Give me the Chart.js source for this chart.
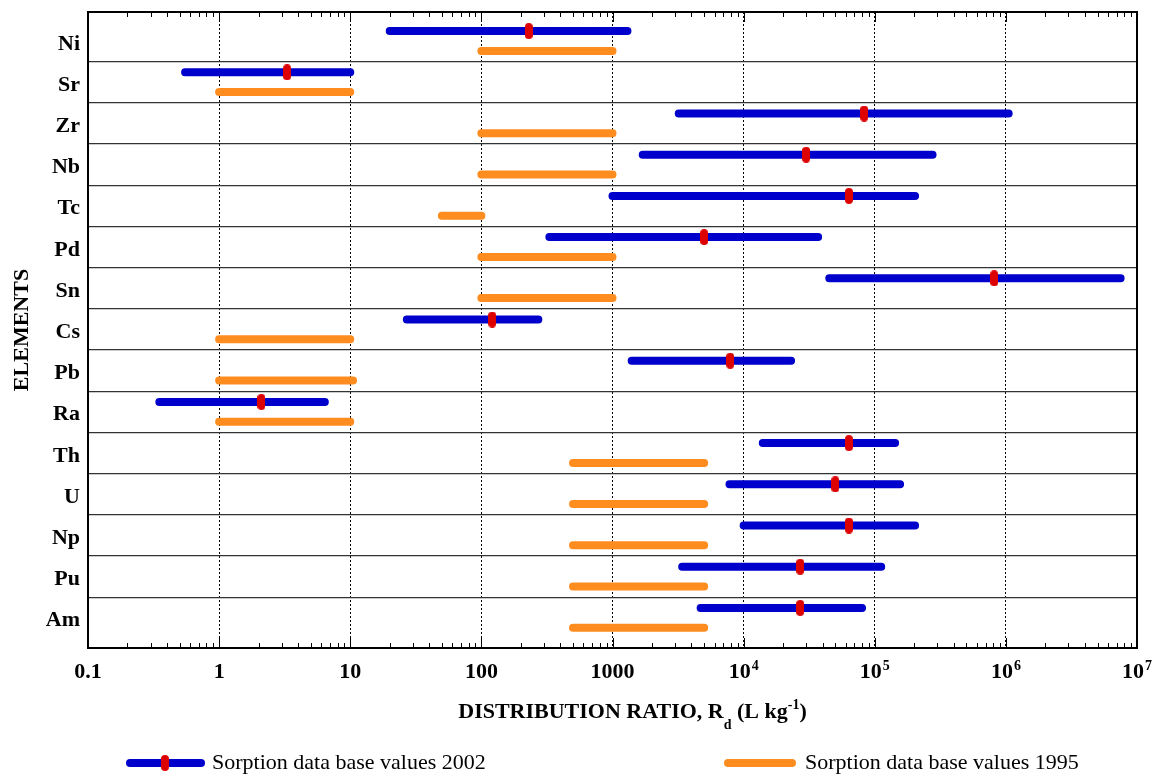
<!DOCTYPE html>
<html>
<head>
<meta charset="utf-8">
<script src="https://cdn.jsdelivr.net/npm/chart.js@4/dist/chart.umd.min.js"></script>
<style>
  html, body { margin: 0; padding: 0; background: #fff; }
</style>
</head>
<body>
<canvas id="sorptionChart" width="1160" height="774"></canvas>
<script>
// elements, top to bottom
const elements = ["Ni", "Sr", "Zr", "Nb", "Tc", "Pd", "Sn", "Cs", "Pb", "Ra", "Th", "U", "Np", "Pu", "Am"];

// sorption data base 2002: low / high / best estimate (L/kg)
const low2002  = [20, 0.55, 3200, 1700, 1000, 330, 45000, 27, 1400, 0.35, 14000, 7800, 10000, 3400, 4700];
const high2002 = [1300, 10, 1050000, 276000, 203000, 37000, 7500000, 272, 23000, 6.4, 143000, 156000, 203000, 112000, 80000];
const best2002 = [230, 3.3, 83000, 30000, 63500, 5000, 815000, 121, 7900, 2.1, 63500, 50000, 63500, 27000, 27000];

// sorption data base 1995: low / high
const low1995  = [100, 1, 100, 100, 50, 100, 100, 1, 1, 1, 500, 500, 500, 500, 500];
const high1995 = [1000, 10, 1000, 1000, 100, 1000, 1000, 10, 10.5, 10, 5000, 5000, 5000, 5000, 5000];

// x axis tick labels (base + superscript)
const xTickValues = [0.1, 1, 10, 100, 1000, 1e4, 1e5, 1e6, 1e7];
const xTickText   = ["0.1", "1", "10", "100", "1000", "10", "10", "10", "10"];
const xTickSup    = ["", "", "", "", "", "4", "5", "6", "7"];

const BLUE = "#0000CC";
const ORANGE = "#FF8C1E";
const RED = "#DD0000";
const OFF = 0.24;   // vertical offset of the two bars inside a row
const SERIF = '"Liberation Serif", "Times New Roman", serif';
const Y_MIN = -0.704, Y_MAX = 14.733;

// red pill used for best estimate
const pill = document.createElement("canvas");
pill.width = 8; pill.height = 16;
const pc = pill.getContext("2d");
pc.fillStyle = RED;
pc.beginPath();
pc.roundRect(0, 0, 8, 16, 4);
pc.fill();

// two points per element, with a gap in between
function rangePoints(lo, hi, off) {
  const pts = [];
  elements.forEach((el, i) => {
    pts.push({ x: lo[i], y: i + off });
    pts.push({ x: hi[i], y: i + off });
    pts.push({ x: hi[i], y: null });
  });
  return pts;
}

function drawRangeLine(ctx, x1, x2, y, color) {
  ctx.save();
  ctx.strokeStyle = color;
  ctx.lineWidth = 8;
  ctx.lineCap = "round";
  ctx.beginPath();
  ctx.moveTo(x1, y);
  ctx.lineTo(x2, y);
  ctx.stroke();
  ctx.restore();
}

const frameAndLabels = {
  id: "frameAndLabels",
  afterDatasetsDraw(chart) {
    const { ctx, chartArea: a, scales: { x } } = chart;
    ctx.save();
    ctx.strokeStyle = "#000";
    ctx.lineWidth = 1;
    // inward ticks on top and bottom
    ctx.beginPath();
    for (let e = -1; e <= 7; e++) {
      for (let k = 1; k <= 9; k++) {
        if (e === 7 && k > 1) break;
        const v = k * Math.pow(10, e);
        const px = Math.round(x.getPixelForValue(v)) + 0.5;
        const len = k === 1 ? 10 : 5;
        ctx.moveTo(px, a.bottom);
        ctx.lineTo(px, a.bottom - len);
        ctx.moveTo(px, a.top);
        ctx.lineTo(px, a.top + len);
      }
    }
    ctx.stroke();
    // frame
    ctx.lineWidth = 2;
    ctx.strokeRect(a.left, a.top, a.right - a.left, a.bottom - a.top);
    ctx.restore();
  },
  afterDraw(chart) {
    const { ctx, chartArea: a, scales: { x } } = chart;
    ctx.save();
    ctx.fillStyle = "#000";
    ctx.textBaseline = "alphabetic";

    // x tick labels
    const big = "bold 22px " + SERIF;
    const small = "bold 14px " + SERIF;
    const baseY = a.bottom + 30;
    xTickValues.forEach((v, i) => {
      const px = x.getPixelForValue(v);
      ctx.font = big;
      const w1 = ctx.measureText(xTickText[i]).width;
      ctx.font = small;
      const w2 = xTickSup[i] ? ctx.measureText(xTickSup[i]).width + 1 : 0;
      const start = px - (w1 + w2) / 2;
      ctx.font = big;
      ctx.textAlign = "left";
      ctx.fillText(xTickText[i], start, baseY);
      if (xTickSup[i]) {
        ctx.font = small;
        ctx.fillText(xTickSup[i], start + w1 + 1, baseY - 8);
      }
    });

    // x axis title: DISTRIBUTION RATIO, R_d (L kg^-1)
    const parts = [
      { t: "DISTRIBUTION RATIO, R", f: big, dy: 0 },
      { t: "d", f: small, dy: 11 },
      { t: " (L kg", f: big, dy: 0 },
      { t: "-1", f: small, dy: -9 },
      { t: ")", f: big, dy: 0 }
    ];
    let total = 0;
    parts.forEach(p => { ctx.font = p.f; p.w = ctx.measureText(p.t).width; total += p.w; });
    let tx = (a.left + a.right) / 2 + 20 - total / 2;
    const titleY = a.bottom + 70;
    parts.forEach(p => {
      ctx.font = p.f;
      ctx.fillText(p.t, tx, titleY + p.dy);
      tx += p.w;
    });

    // legend
    const ly = 763;
    ctx.font = "22px " + SERIF;
    drawRangeLine(ctx, 130, 201, ly, BLUE);
    ctx.drawImage(pill, 161, ly - 8);
    ctx.fillText(chart.data.datasets[1].label, 212, ly + 6);
    drawRangeLine(ctx, 728, 792, ly, ORANGE);
    ctx.fillText(chart.data.datasets[2].label, 805, ly + 6);
    ctx.restore();
  }
};

const ctx = document.getElementById("sorptionChart").getContext("2d");

new Chart(ctx, {
  type: "scatter",
  data: {
    datasets: [
      {
        label: "Best estimate 2002",
        data: best2002.map((v, i) => ({ x: v, y: i - OFF })),
        pointStyle: pill,
        pointRadius: 8,
        order: 0
      },
      {
        label: "Sorption data base values 2002",
        data: rangePoints(low2002, high2002, -OFF),
        showLine: true,
        spanGaps: false,
        borderColor: BLUE,
        borderWidth: 8,
        borderCapStyle: "round",
        pointRadius: 0,
        order: 1
      },
      {
        label: "Sorption data base values 1995",
        data: rangePoints(low1995, high1995, OFF),
        showLine: true,
        spanGaps: false,
        borderColor: ORANGE,
        borderWidth: 8,
        borderCapStyle: "round",
        pointRadius: 0,
        order: 2
      }
    ]
  },
  options: {
    responsive: false,
    animation: false,
    devicePixelRatio: 1,
    layout: { padding: { top: 12, right: 23, left: 0, bottom: 0 } },
    plugins: {
      legend: { display: false },
      tooltip: { enabled: false }
    },
    scales: {
      x: {
        type: "logarithmic",
        min: 0.1,
        max: 1e7,
        afterBuildTicks: s => { s.ticks = xTickValues.map(v => ({ value: v })); },
        ticks: { display: false },
        grid: { color: "#000", lineWidth: 1, drawTicks: false },
        border: { display: false, dash: [2, 2] },
        afterFit: s => { s.height = 126; s.paddingLeft = 0; s.paddingRight = 0; }
      },
      y: {
        type: "linear",
        reverse: true,
        min: Y_MIN,
        max: Y_MAX,
        afterBuildTicks: s => { s.ticks = elements.map((e, i) => ({ value: i })); },
        ticks: {
          callback: v => elements[v],
          color: "#000",
          padding: 0,
          labelOffset: 3,
          font: { family: SERIF, size: 22, weight: "bold" }
        },
        grid: { display: false },
        border: { display: false },
        title: {
          display: true,
          text: "ELEMENTS",
          color: "#000",
          padding: { top: 9, bottom: 0 },
          font: { family: SERIF, size: 22, weight: "bold" }
        },
        afterFit: s => { s.width = 88; s.paddingTop = 0; s.paddingBottom = 0; }
      },
      ySep: {
        type: "linear",
        position: "right",
        reverse: true,
        min: Y_MIN,
        max: Y_MAX,
        afterBuildTicks: s => { s.ticks = elements.slice(1).map((e, i) => ({ value: i + 0.5 })); },
        ticks: { display: false },
        grid: { color: "#333", lineWidth: 1.3, drawTicks: false },
        border: { display: false },
        afterFit: s => { s.width = 0; s.paddingTop = 0; s.paddingBottom = 0; }
      }
    }
  },
  plugins: [frameAndLabels]
});
</script>
</body>
</html>
